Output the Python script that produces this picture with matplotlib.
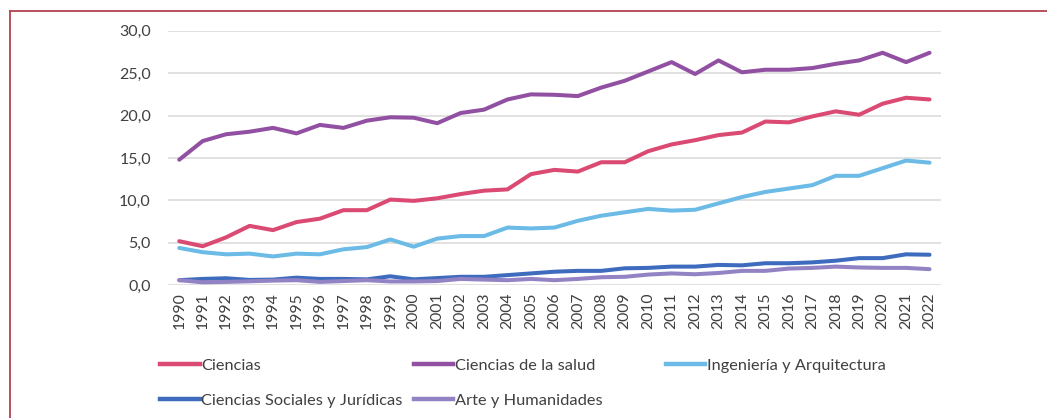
import matplotlib
matplotlib.use("Agg")
import matplotlib.pyplot as plt
from matplotlib.lines import Line2D

years = [str(y) for y in range(1990, 2023)]

ciencias = [5.2, 4.6, 5.65, 7.0, 6.5, 7.45, 7.85, 8.85, 8.85, 10.1, 9.95, 10.25, 10.75, 11.15, 11.3,
            13.1, 13.6, 13.4, 14.5, 14.5, 15.8, 16.6, 17.1, 17.7, 18.0, 19.3, 19.2, 19.9, 20.5, 20.1,
            21.4, 22.1, 21.9]
salud = [14.8, 17.0, 17.8, 18.1, 18.55, 17.9, 18.9, 18.55, 19.4, 19.8, 19.75, 19.1, 20.3, 20.7, 21.9,
         22.5, 22.45, 22.3, 23.3, 24.1, 25.2, 26.3, 24.9, 26.5, 25.1, 25.4, 25.4, 25.6, 26.1, 26.5,
         27.4, 26.3, 27.4]
ingenieria = [4.4, 3.9, 3.65, 3.73, 3.4, 3.73, 3.65, 4.24, 4.5, 5.4, 4.55, 5.5, 5.8, 5.8, 6.8,
              6.7, 6.8, 7.6, 8.2, 8.6, 9.0, 8.8, 8.9, 9.65, 10.4, 11.0, 11.4, 11.8, 12.9, 12.9,
              13.8, 14.7, 14.45]
sociales = [0.6, 0.75, 0.83, 0.63, 0.67, 0.9, 0.75, 0.75, 0.7, 1.06, 0.7, 0.85, 1.0, 1.0, 1.2,
            1.4, 1.6, 1.7, 1.7, 2.0, 2.05, 2.2, 2.2, 2.4, 2.35, 2.6, 2.6, 2.7, 2.9, 3.2,
            3.2, 3.65, 3.6]
arte = [0.6, 0.35, 0.4, 0.47, 0.55, 0.6, 0.4, 0.5, 0.6, 0.45, 0.45, 0.5, 0.75, 0.67, 0.6,
        0.75, 0.6, 0.75, 0.95, 1.0, 1.26, 1.4, 1.3, 1.45, 1.7, 1.7, 1.97, 2.05, 2.2, 2.1,
        2.05, 2.05, 1.9]

series_names = ["Ciencias", "Ciencias de la salud", "Ingeniería y Arquitectura",
                "Ciencias Sociales y Jurídicas", "Arte y Humanidades"]
series_vals = [ciencias, salud, ingenieria, sociales, arte]
colors = ["#DA4A73", "#9150A2", "#6BBBE6", "#3E6BBE", "#9383C4"]

yticks = [0, 5, 10, 15, 20, 25, 30]

plt.rcParams['font.family'] = ['Lato', 'DejaVu Sans']

fig = plt.figure(figsize=(10.47, 4.18), dpi=100)
ax = fig.add_axes([0.160, 0.3175, 0.739, 0.609])

x = list(range(len(years)))
lines = []
for name, vals, c in zip(series_names, series_vals, colors):
    ln, = ax.plot(x, vals, color=c, lw=2.9, solid_capstyle='round', solid_joinstyle='round', label=name)
    lines.append(ln)

ax.set_xlim(-0.5, len(years) - 0.5)
ax.set_ylim(0, 30)
ax.set_yticks(yticks)
ax.set_yticklabels([f"{v:.1f}".replace('.', ',') for v in yticks], fontsize=11.5, color="#404040")
ax.set_xticks(x)
ax.set_xticklabels(years, rotation=90, fontsize=11.3, color="#404040")
ax.tick_params(axis='both', length=0)
ax.tick_params(axis='y', pad=12)
ax.tick_params(axis='x', pad=5)
for s in ax.spines.values():
    s.set_visible(False)
ax.grid(axis='y', color="#D9D9D9", lw=1.1)
ax.set_axisbelow(True)

pos = [(0.153, 0.125), (0.395, 0.125), (0.636, 0.125), (0.153, 0.041), (0.395, 0.041)]
for ln, (px, py) in zip(lines, pos):
    h = Line2D([], [], color=ln.get_color(), lw=3.2)
    leg = fig.legend([h], [ln.get_label()], loc='center left', bbox_to_anchor=(px, py),
                     frameon=False, fontsize=11.8, handlelength=2.4, handletextpad=0.12,
                     borderaxespad=0, borderpad=0)
    for t in leg.get_texts():
        t.set_color("#404040")

fig.add_artist(Line2D([9.5 / 1047, 1.0], [1 - 11 / 418, 1 - 11 / 418], transform=fig.transFigure,
                      color="#B2434F", lw=1.3))
fig.add_artist(Line2D([9.5 / 1047, 9.5 / 1047], [0, 1 - 11 / 418], transform=fig.transFigure,
                      color="#B2434F", lw=1.3))

fig.savefig("out.png", dpi=100)
